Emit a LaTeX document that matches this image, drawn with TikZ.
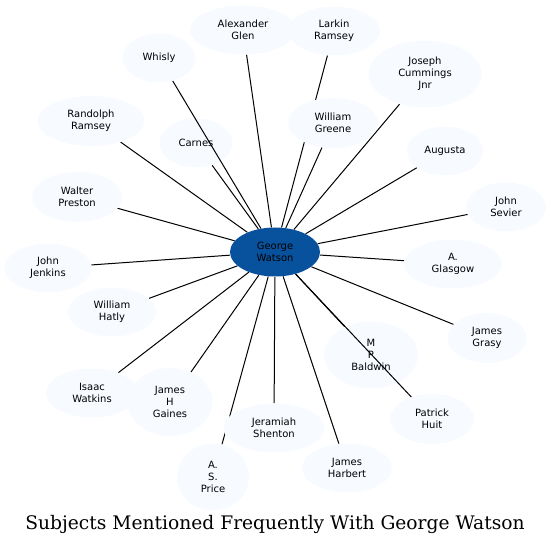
\documentclass[tikz,border=0pt]{standalone}
\usepackage{fontspec}
\setsansfont{DejaVu Sans}
\newfontfamily\titlefont{DejaVu Serif}
\usepackage{tikz}
\usetikzlibrary{shapes.geometric, backgrounds}
\definecolor{bluelight}{HTML}{F7FBFF}
\definecolor{bluedark}{HTML}{08519C}

\begin{document}
\begin{tikzpicture}[x=0.75pt, y=-0.75pt,
				subj/.style={ellipse, fill=bluelight, inner sep=0pt, align=center,
					font=\sffamily\fontsize{7.5}{9}\selectfont},
				hub/.style={subj, fill=bluedark},
				link/.style={draw=black, line width=0.75pt}]
				%Rahmen festlegen
				\useasboundingbox (0,0) rectangle (551,545);
				% Mittelknoten
				\node[hub, minimum width=90*0.75pt, minimum height=49*0.75pt] (gwatson) at (275,252) {George\\Watson};
				% Personen
				\foreach \id/\x/\y/\w/\h/\txt in {
					aglen/243/30/106/49/{Alexander\\Glen},
					lramsey/334/31/92/49/{Larkin\\Ramsey},
					whisly/159/58/73/49/{Whisly},
					jcummings/425/74/113/67/{Joseph\\Cummings\\Jnr},
					rramsey/91/121/107/50/{Randolph\\Ramsey},
					carnes/196/143/73/49/{Carnes},
					wgreene/333/123/90/50/{William\\Greene},
					augusta/445/151/76/49/{Augusta},
					wpreston/77/197/90/50/{Walter\\Preston},
					jsevier/506/207/80/49/{John\\Sevier},
					jjenkins/48/268/87/49/{John\\Jenkins},
					aglasgow/453/264/98/49/{A.\\Glasgow},
					whatly/112/312/88/49/{William\\Hatly},
					jgrasy/487/338/79/50/{James\\Grasy},
					mpbaldwin/371/355/94/67/{M\\P\\Baldwin},
					iwatkins/92/393/92/49/{Isaac\\Watkins},
					jhgaines/170/402/85/68/{James\\H\\Gaines},
					jshenton/274/428/101/49/{Jeramiah\\Shenton},
					phuit/432/419/84/50/{Patrick\\Huit},
					asprice/213/477/72/67/{A.\\S.\\Price},
					jharbert/347/468/90/49/{James\\Harbert}}
					\node[subj, minimum width=\w*0.75pt, minimum height=\h*0.75pt] (\id) at (\x,\y) {\txt};
				% Kanten (unter den Knoten)
				\begin{scope}[on background layer]
					\foreach \id in {aglen,lramsey,jcummings,rramsey,carnes,wgreene,augusta,wpreston,
						jsevier,jjenkins,aglasgow,whatly,jgrasy,mpbaldwin,iwatkins,jhgaines,
						jshenton,asprice,jharbert}
						\draw[link] (gwatson) -- (\id);
				\end{scope}
				% Kanten ueber den Knoten
				\draw[link] (gwatson) -- (whisly);
				\draw[link] (gwatson) -- (phuit);
				%Titel
				\node[font=\titlefont\fontsize{14}{16}\selectfont] (title) at (275,524) {Subjects Mentioned Frequently With George Watson};
			\end{tikzpicture}
\end{document}
